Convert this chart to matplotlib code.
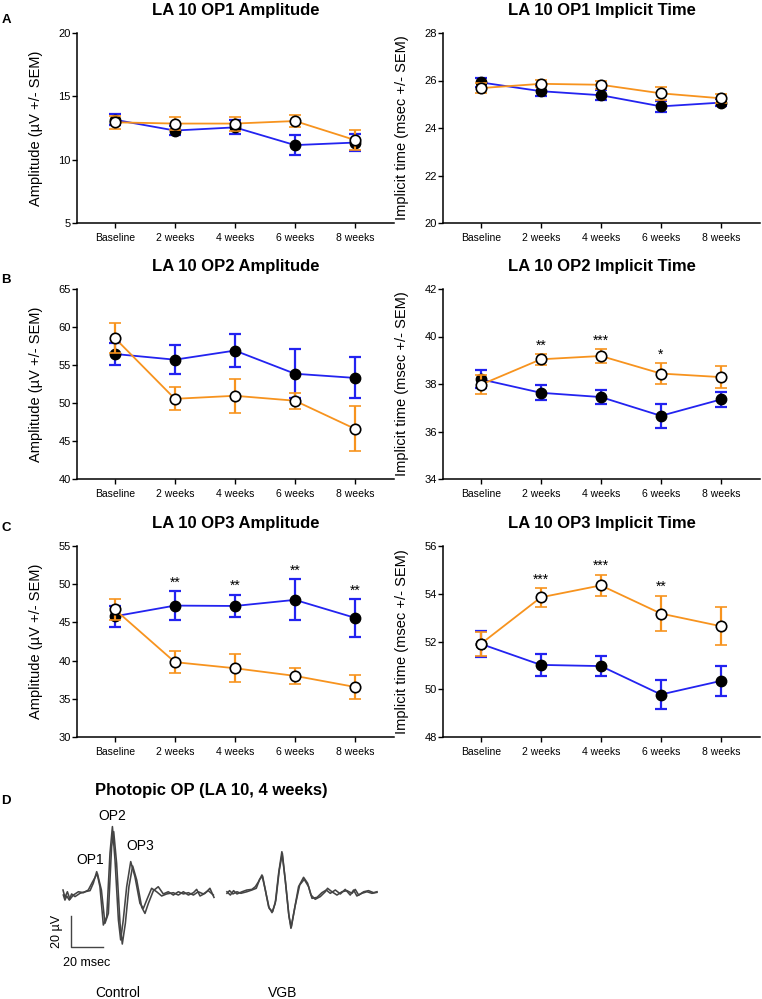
import matplotlib.pyplot as plt
import numpy as np

plt.rcParams['font.family'] = ['Liberation Sans', 'DejaVu Sans']

weeks = ['Baseline', '2 weeks', '4 weeks', '6 weeks', '8 weeks']

# OP1 amplitude (uV)
op1_amp_ctrl = [13.15, 12.3, 12.55, 11.15, 11.35]
op1_amp_ctrl_sem = [0.45, 0.35, 0.55, 0.8, 0.7]
op1_amp_vgb = [12.95, 12.85, 12.85, 13.05, 11.55]
op1_amp_vgb_sem = [0.5, 0.5, 0.55, 0.45, 0.8]

# OP1 implicit time (msec)
op1_it_ctrl = [25.92, 25.55, 25.38, 24.91, 25.07]
op1_it_ctrl_sem = [0.2, 0.22, 0.2, 0.22, 0.15]
op1_it_vgb = [25.68, 25.86, 25.82, 25.46, 25.25]
op1_it_vgb_sem = [0.2, 0.15, 0.18, 0.27, 0.2]

# OP2 amplitude
op2_amp_ctrl = [56.45, 55.7, 56.9, 53.85, 53.3]
op2_amp_ctrl_sem = [1.5, 1.9, 2.2, 3.2, 2.7]
op2_amp_vgb = [58.55, 50.55, 50.95, 50.3, 46.6]
op2_amp_vgb_sem = [2.0, 1.5, 2.2, 1.05, 2.95]

# OP2 implicit time
op2_it_ctrl = [38.2, 37.63, 37.45, 36.66, 37.35]
op2_it_ctrl_sem = [0.37, 0.32, 0.3, 0.5, 0.33]
op2_it_vgb = [37.97, 39.04, 39.18, 38.44, 38.29]
op2_it_vgb_sem = [0.4, 0.22, 0.3, 0.43, 0.45]
op2_it_stars = ['', '**', '***', '*', '']

# OP3 amplitude
op3_amp_ctrl = [45.8, 47.2, 47.15, 47.95, 45.6]
op3_amp_ctrl_sem = [1.35, 1.88, 1.5, 2.7, 2.5]
op3_amp_vgb = [46.7, 39.8, 39.0, 38.0, 36.55]
op3_amp_vgb_sem = [1.35, 1.45, 1.85, 1.02, 1.6]
op3_amp_stars = ['', '**', '**', '**', '**']

# OP3 implicit time
op3_it_ctrl = [51.9, 51.02, 50.97, 49.78, 50.35]
op3_it_ctrl_sem = [0.55, 0.45, 0.43, 0.62, 0.63]
op3_it_vgb = [51.9, 53.85, 54.35, 53.17, 52.64]
op3_it_vgb_sem = [0.5, 0.4, 0.45, 0.75, 0.8]
op3_it_stars = ['', '***', '***', '**', '']

# Photopic OP traces (LA 10, 4 weeks): time (msec), voltage (uV)
ctrl1_t = [0.2, 1.2, 2.3, 3.9, 5.3, 7.4, 10.5, 13.6, 16.7, 18.7, 20.8, 22.8, 24.9, 27.0,
           29.0, 30.5, 32.1, 34.2, 35.6, 37.2, 39.3, 41.8, 44.4, 47.5, 49.6, 52.1, 54.7,
           57.8, 60.9, 64.0, 68.1, 71.2, 74.3, 77.4, 80.5, 82.5, 84.6, 87.7, 90.7, 93.2]
ctrl1_v = [-1.3, -4.5, -1.9, -4.5, -0.6, -2.3, -0.2, 0.8, 1.5, 6.2, 13.6, 4.0, -20.4, -15.1,
           25.3, 42.3, 21.0, -17.2, -29.9, -17.2, 4.0, 20.0, 10.4, -6.6, -9.8, -3.4, 3.0,
           0.8, -1.9, -0.6, 0.2, -1.3, 0.8, -1.3, 0.2, 2.3, -1.9, -0.2, 3.0, -2.8]
ctrl2_t = [0.0, 1.2, 2.7, 4.3, 6.4, 9.5, 12.6, 15.6, 18.3, 21.2, 23.7, 25.9, 28.0, 30.0,
           31.3, 33.1, 35.2, 36.6, 38.5, 40.7, 43.0, 45.5, 48.6, 50.6, 52.7, 55.8, 58.8,
           61.9, 65.0, 68.1, 71.2, 74.3, 77.4, 80.5, 83.5, 86.6, 89.7, 92.8]
ctrl2_v = [1.9, -2.8, 0.8, -4.0, -1.3, 0.8, 0.2, 1.9, 7.2, 12.5, 1.9, -19.3, -13.0, 29.5,
           39.1, 18.9, -19.3, -32.5, -19.3, 4.0, 17.2, 8.3, -9.1, -13.0, -6.6, 1.5, 4.0,
           -0.6, 0.8, -1.3, 0.8, -0.6, 0.2, -1.3, 0.8, -0.6, 1.5, -1.3]
vgb1_t = [0.0, 2.1, 4.1, 6.2, 9.3, 12.3, 15.4, 17.5, 19.5, 21.6, 23.7, 25.7, 27.8, 29.8,
          31.9, 33.9, 36.0, 38.1, 39.5, 41.6, 44.2, 47.3, 49.8, 51.9, 54.5, 57.6, 60.7,
          62.1, 64.8, 67.9, 71.0, 74.1, 77.2, 79.2, 81.3, 84.4, 87.4, 90.5, 92.6]
vgb1_v = [0.8, -1.3, 1.5, -0.6, 0.8, 1.9, 2.3, 4.0, 7.2, 11.5, 1.9, -8.7, -12.5, -6.6,
          12.5, 26.3, 8.3, -13.0, -22.5, -10.8, 4.0, 10.0, 6.2, -1.3, -4.0, -2.3, 0.8,
          3.0, 0.8, -1.3, 0.8, 1.5, -0.2, 2.3, -1.3, 0.8, 1.5, 0.2, 0.8]
vgb2_t = [0.0, 1.6, 3.7, 6.2, 8.6, 12.3, 15.4, 18.1, 20.2, 22.0, 24.1, 26.1, 28.2, 30.2,
          32.3, 34.2, 36.2, 38.3, 39.7, 42.0, 44.9, 47.7, 50.4, 52.5, 55.6, 58.6, 61.3,
          63.8, 66.9, 70.0, 73.0, 76.1, 78.2, 80.2, 83.3, 86.4, 89.5, 92.6]
vgb2_v = [-0.2, 1.5, -0.6, 0.8, -0.2, 0.8, 1.9, 3.0, 8.7, 10.8, -0.2, -9.8, -11.9, -4.5,
          14.6, 25.3, 6.2, -15.1, -21.9, -8.7, 5.1, 8.7, 4.0, -3.4, -2.8, 0.2, 1.9,
          -0.2, 1.9, -0.6, 2.3, -1.3, 1.9, -1.9, -0.2, 0.8, -0.2, 0.4]

BLUE = '#2323f0'
ORANGE = '#f7931e'

W, H = 762, 999
fig = plt.figure(figsize=(W / 100, H / 100), dpi=100)


def px_axes(l, t, r, b):
    return fig.add_axes([l / W, 1 - b / H, (r - l) / W, (b - t) / H])


def draw_panel(ax, title, ylabel, ylim, yticks, ctrl, ctrl_sem, vgb, vgb_sem, stars=None):
    x = np.arange(len(weeks))
    ax.errorbar(x, ctrl, yerr=ctrl_sem, color=BLUE, lw=1.3, elinewidth=1.6,
                capsize=4, capthick=1.6, marker='o', ms=7.5, mfc='black', mec='black',
                zorder=3)
    ax.errorbar(x, vgb, yerr=vgb_sem, color=ORANGE, lw=1.3, elinewidth=1.6,
                capsize=4, capthick=1.6, marker='o', ms=7.5, mfc='white', mec='black',
                mew=1.2, zorder=4)
    if stars:
        for i, s in enumerate(stars):
            if s:
                top = max(ctrl[i] + ctrl_sem[i], vgb[i] + vgb_sem[i])
                ax.annotate(s, (i, top), xytext=(0, 1), textcoords='offset points',
                            ha='center', va='bottom', fontsize=10)
    ax.set_xlim(-0.63, 4.65)
    ax.set_ylim(*ylim)
    ax.set_yticks(yticks)
    ax.set_xticks(x)
    ax.set_xticklabels(weeks, fontsize=7.5)
    ax.tick_params(axis='y', labelsize=8, length=3.5, width=1, pad=1)
    ax.tick_params(axis='x', length=3.5, width=1, pad=4)
    for side in ['top', 'right']:
        ax.spines[side].set_visible(False)
    for side in ['left', 'bottom']:
        ax.spines[side].set_linewidth(1.1)
    ax.set_ylabel(ylabel, fontsize=10.5)
    ax.yaxis.set_label_coords(-34 / 317, 0.5)
    ax.set_title(title, fontsize=12, fontweight='bold', pad=13)


amp_label = 'Amplitude (µV +/- SEM)'
it_label = 'Implicit time (msec +/- SEM)'

rows = [(33, 223), (289, 479), (546, 737)]
cols = [(77, 394), (443, 760)]

ax = px_axes(cols[0][0], rows[0][0], cols[0][1], rows[0][1])
draw_panel(ax, 'LA 10 OP1 Amplitude', amp_label, (5, 20), [5, 10, 15, 20],
           op1_amp_ctrl, op1_amp_ctrl_sem, op1_amp_vgb, op1_amp_vgb_sem)
ax = px_axes(cols[1][0], rows[0][0], cols[1][1], rows[0][1])
draw_panel(ax, 'LA 10 OP1 Implicit Time', it_label, (20, 28), [20, 22, 24, 26, 28],
           op1_it_ctrl, op1_it_ctrl_sem, op1_it_vgb, op1_it_vgb_sem)
ax = px_axes(cols[0][0], rows[1][0], cols[0][1], rows[1][1])
draw_panel(ax, 'LA 10 OP2 Amplitude', amp_label, (40, 65), [40, 45, 50, 55, 60, 65],
           op2_amp_ctrl, op2_amp_ctrl_sem, op2_amp_vgb, op2_amp_vgb_sem)
ax = px_axes(cols[1][0], rows[1][0], cols[1][1], rows[1][1])
draw_panel(ax, 'LA 10 OP2 Implicit Time', it_label, (34, 42), [34, 36, 38, 40, 42],
           op2_it_ctrl, op2_it_ctrl_sem, op2_it_vgb, op2_it_vgb_sem, op2_it_stars)
ax = px_axes(cols[0][0], rows[2][0], cols[0][1], rows[2][1])
draw_panel(ax, 'LA 10 OP3 Amplitude', amp_label, (30, 55), [30, 35, 40, 45, 50, 55],
           op3_amp_ctrl, op3_amp_ctrl_sem, op3_amp_vgb, op3_amp_vgb_sem, op3_amp_stars)
ax = px_axes(cols[1][0], rows[2][0], cols[1][1], rows[2][1])
draw_panel(ax, 'LA 10 OP3 Implicit Time', it_label, (48, 56), [48, 50, 52, 54, 56],
           op3_it_ctrl, op3_it_ctrl_sem, op3_it_vgb, op3_it_vgb_sem, op3_it_stars)

# panel letters
for letter, y in [('A', 20), ('B', 280), ('C', 528), ('D', 801)]:
    fig.text(6 / W, 1 - y / H, letter, fontsize=9.5, fontweight='bold',
             ha='center', va='center')

# Panel D: OP traces
axd = px_axes(0, 805, 420, 999)
axd.set_xlim(-63 / 1.62, (420 - 63) / 1.62)
axd.set_ylim(-(999 - 893) / 1.57, (893 - 805) / 1.57)
axd.axis('off')
vgb_offset = 101.2
trace_kw = dict(color='#444444', lw=1.15)
axd.plot(ctrl1_t, ctrl1_v, **trace_kw)
axd.plot(ctrl2_t, ctrl2_v, **trace_kw)
axd.plot(np.array(vgb1_t) + vgb_offset, vgb1_v, **trace_kw)
axd.plot(np.array(vgb2_t) + vgb_offset, vgb2_v, **trace_kw)

# scale bar
axd.plot([4.9, 4.9, 24.9], [-14.4, -34.4, -34.4], color='#444444', lw=1)
axd.text(-3.7, -24.8, '20 µV', rotation=90, ha='center', va='center', fontsize=9)
axd.text(14.8, -44.6, '20 msec', ha='center', va='center', fontsize=9)
axd.text(16.7, 21.0, 'OP1', ha='center', va='center', fontsize=10)
axd.text(30.2, 49.0, 'OP2', ha='center', va='center', fontsize=10)
axd.text(47.5, 29.9, 'OP3', ha='center', va='center', fontsize=10)
axd.text(34.0, -63.7, 'Control', ha='center', va='center', fontsize=10)
axd.text(135.8, -63.7, 'VGB', ha='center', va='center', fontsize=10)

fig.text(211 / W, 1 - 790 / H, 'Photopic OP (LA 10, 4 weeks)', fontsize=12,
         fontweight='bold', ha='center', va='center')

fig.savefig('out.png', dpi=100)
